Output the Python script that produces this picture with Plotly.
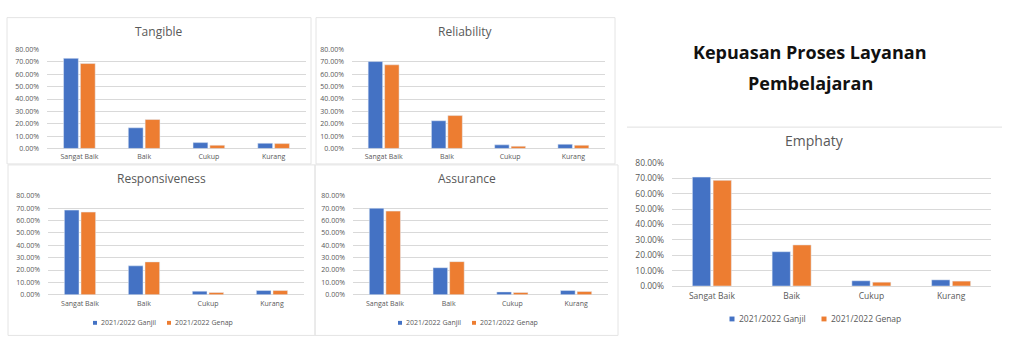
import plotly.graph_objects as go

W, H = 1024, 354

categories = ["Sangat Baik", "Baik", "Cukup", "Kurang"]
series_names = ["2021/2022 Ganjil", "2021/2022 Genap"]

tangible_ganjil = [0.729, 0.167, 0.047, 0.042]
tangible_genap = [0.687, 0.234, 0.026, 0.039]

reliability_ganjil = [0.703, 0.224, 0.029, 0.034]
reliability_genap = [0.677, 0.266, 0.018, 0.026]

responsiveness_ganjil = [0.685, 0.234, 0.029, 0.034]
responsiveness_genap = [0.669, 0.266, 0.018, 0.034]

assurance_ganjil = [0.700, 0.219, 0.023, 0.034]
assurance_genap = [0.677, 0.268, 0.018, 0.026]

emphaty_ganjil = [0.708, 0.223, 0.034, 0.040]
emphaty_genap = [0.687, 0.267, 0.025, 0.032]

y_ticks = [0, 0.1, 0.2, 0.3, 0.4, 0.5, 0.6, 0.7, 0.8]

main_title = ["Kepuasan Proses Layanan", "Pembelajaran"]

BLUE = "#4472C4"
ORANGE = "#ED7D31"
GRID = "#D9D9D9"
TXT = "#595959"
FONT = "Open Sans"
COLORS = [BLUE, ORANGE]

panels = [
    dict(title="Tangible", g=tangible_ganjil, e=tangible_genap,
         plot=(47, 306, 45, 147), box=(7, 12, 311, 163), full_box=True, ty=26, tfs=12, fs=7,
         legend=None),
    dict(title="Reliability", g=reliability_ganjil, e=reliability_genap,
         plot=(352, 605, 45, 147), box=(316, 12, 615, 163), full_box=True, ty=26, tfs=12, fs=7,
         legend=None),
    dict(title="Responsiveness", g=responsiveness_ganjil, e=responsiveness_genap,
         plot=(48, 304, 196, 298), box=(8, 164, 315, 340), full_box=True, ty=178, tfs=12, fs=7,
         legend=dict(y=327, sq=(95, 169), tx=(99, 173), size=4)),
    dict(title="Assurance", g=assurance_ganjil, e=assurance_genap,
         plot=(353, 608, 196, 298), box=(315, 164, 618, 340), full_box=True, ty=178, tfs=12, fs=7,
         legend=dict(y=327, sq=(400, 474), tx=(404, 478), size=4)),
    dict(title="Emphaty", g=emphaty_ganjil, e=emphaty_genap,
         plot=(672, 991, 162, 289), box=(627, 125, 1002, 346), full_box=False, ty=139, tfs=14,
         fs=8.5, legend=dict(y=323, sq=(732, 824), tx=(737, 829), size=5)),
]

fig = go.Figure()
layout = dict(
    width=W, height=H, margin=dict(l=0, r=0, t=0, b=0),
    paper_bgcolor="white", plot_bgcolor="white",
    barmode="group", bargap=0.48, bargroupgap=0.12,
    font=dict(family=FONT, color=TXT),
    showlegend=False,
)
shapes = []
annotations = []

for i, p in enumerate(panels, start=1):
    xa = "x" if i == 1 else f"x{i}"
    ya = "y" if i == 1 else f"y{i}"
    x0, x1, y0, y1 = p["plot"]
    for name, vals, col in [(series_names[0], p["g"], BLUE), (series_names[1], p["e"], ORANGE)]:
        fig.add_trace(go.Bar(
            x=categories, y=vals, name=name, marker_color=col,
            xaxis=xa, yaxis=ya,
            hovertemplate="%{x}: %{y:.2%}<extra>" + name + "</extra>",
        ))
    layout["xaxis" if i == 1 else f"xaxis{i}"] = dict(
        domain=[x0 / W, x1 / W], anchor=ya, showgrid=False, showline=False,
        ticks="", tickfont=dict(size=p["fs"], color=TXT), ticklabelstandoff=3,
    )
    layout["yaxis" if i == 1 else f"yaxis{i}"] = dict(
        domain=[1 - y1 / H, 1 - y0 / H], anchor=xa, range=[0, 0.8],
        tickvals=y_ticks, tickformat=".2%", showgrid=True, gridcolor=GRID, gridwidth=1,
        zeroline=True, zerolinecolor=GRID, zerolinewidth=1, showline=False,
        ticks="", tickfont=dict(size=p["fs"], color=TXT), ticklabelstandoff=7,
    )
    bx0, by0, bx1, by1 = p["box"]
    if p["full_box"]:
        shapes.append(dict(type="rect", xref="paper", yref="paper",
                           x0=bx0 / W, x1=bx1 / W, y0=1 - by1 / H, y1=1 - by0 / H,
                           line=dict(color="#E4E4E4", width=1), fillcolor="rgba(0,0,0,0)",
                           layer="below"))
    else:
        shapes.append(dict(type="line", xref="paper", yref="paper",
                           x0=bx0 / W, x1=bx1 / W, y0=1 - by0 / H, y1=1 - by0 / H,
                           line=dict(color="#E0E0E0", width=1), layer="below"))
    annotations.append(dict(text=p["title"], xref="paper", yref="paper",
                            x=((bx0 + bx1) / 2) / W, y=1 - p["ty"] / H,
                            xanchor="center", yanchor="middle", showarrow=False,
                            font=dict(size=p["tfs"], color=TXT, family=FONT)))
    leg = p["legend"]
    if leg:
        s = leg["size"] / 2
        for k in range(2):
            cx = leg["sq"][k]
            shapes.append(dict(type="rect", xref="paper", yref="paper",
                               x0=(cx - s) / W, x1=(cx + s) / W,
                               y0=1 - (leg["y"] + s) / H, y1=1 - (leg["y"] - s) / H,
                               line=dict(width=0), fillcolor=COLORS[k]))
            annotations.append(dict(text=series_names[k], xref="paper", yref="paper",
                                    x=leg["tx"][k] / W, y=1 - leg["y"] / H,
                                    xanchor="left", yanchor="middle", showarrow=False,
                                    font=dict(size=p["fs"], color=TXT, family=FONT)))

annotations.append(dict(text=main_title[0], xref="paper", yref="paper", x=810 / W, y=1 - 47 / H,
                        xanchor="center", yanchor="middle", showarrow=False,
                        font=dict(size=18, color="#111111", family=FONT, weight="bold")))
annotations.append(dict(text=main_title[1], xref="paper", yref="paper", x=810 / W, y=1 - 79 / H,
                        xanchor="center", yanchor="middle", showarrow=False,
                        font=dict(size=18, color="#111111", family=FONT, weight="bold")))

layout["shapes"] = shapes
layout["annotations"] = annotations
fig.update_layout(**layout)
fig.write_html("out.html")
